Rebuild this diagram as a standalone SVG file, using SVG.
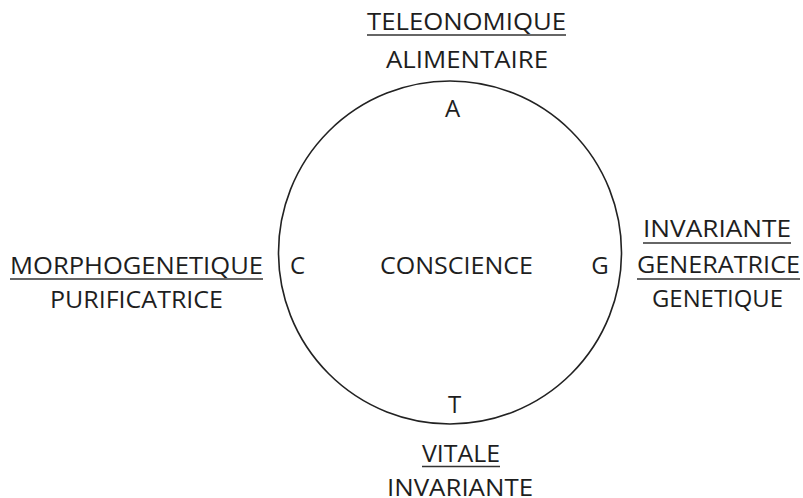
<svg xmlns="http://www.w3.org/2000/svg" width="803" height="498" viewBox="0 0 803 498">
<style>
text{font-family:"Open Sans","Liberation Sans",sans-serif;font-size:24px;fill:#1e1e1e;text-anchor:middle}
.u{stroke:#333;stroke-width:1.6}
</style>
<rect width="803" height="498" fill="#fff"/>
<g id="circle">
<circle cx="450" cy="252.5" r="171.5" fill="none" stroke="#222" stroke-width="1.6"/>
<text x="456.5" y="274" textLength="153" lengthAdjust="spacingAndGlyphs">CONSCIENCE</text>
</g>
<g id="node-A">
<text x="466.5" y="30" textLength="199" lengthAdjust="spacingAndGlyphs">TELEONOMIQUE</text>
<line class="u" x1="367" y1="35" x2="566" y2="35"/>
<text x="467" y="68" textLength="162" lengthAdjust="spacingAndGlyphs">ALIMENTAIRE</text>
<text x="452.5" y="117">A</text>
</g>
<g id="node-C">
<text x="136.5" y="274" textLength="253" lengthAdjust="spacingAndGlyphs">MORPHOGENETIQUE</text>
<line class="u" x1="10" y1="279" x2="263" y2="279"/>
<text x="136.5" y="308" textLength="173" lengthAdjust="spacingAndGlyphs">PURIFICATRICE</text>
<text x="297.5" y="274">C</text>
</g>
<g id="node-G">
<text x="717" y="237" textLength="148" lengthAdjust="spacingAndGlyphs">INVARIANTE</text>
<line class="u" x1="643" y1="243" x2="791" y2="243"/>
<text x="718.5" y="273" textLength="163" lengthAdjust="spacingAndGlyphs">GENERATRICE</text>
<line class="u" x1="637" y1="279" x2="800" y2="279"/>
<text x="717.5" y="307" textLength="131" lengthAdjust="spacingAndGlyphs">GENETIQUE</text>
<text x="600" y="274">G</text>
</g>
<g id="node-T">
<text x="454.5" y="413">T</text>
<text x="461" y="462" textLength="78" lengthAdjust="spacingAndGlyphs">VITALE</text>
<line class="u" x1="422" y1="466.5" x2="500" y2="466.5"/>
<text x="460" y="496" textLength="146" lengthAdjust="spacingAndGlyphs">INVARIANTE</text>
</g>
<g id="connectors"></g>
</svg>
